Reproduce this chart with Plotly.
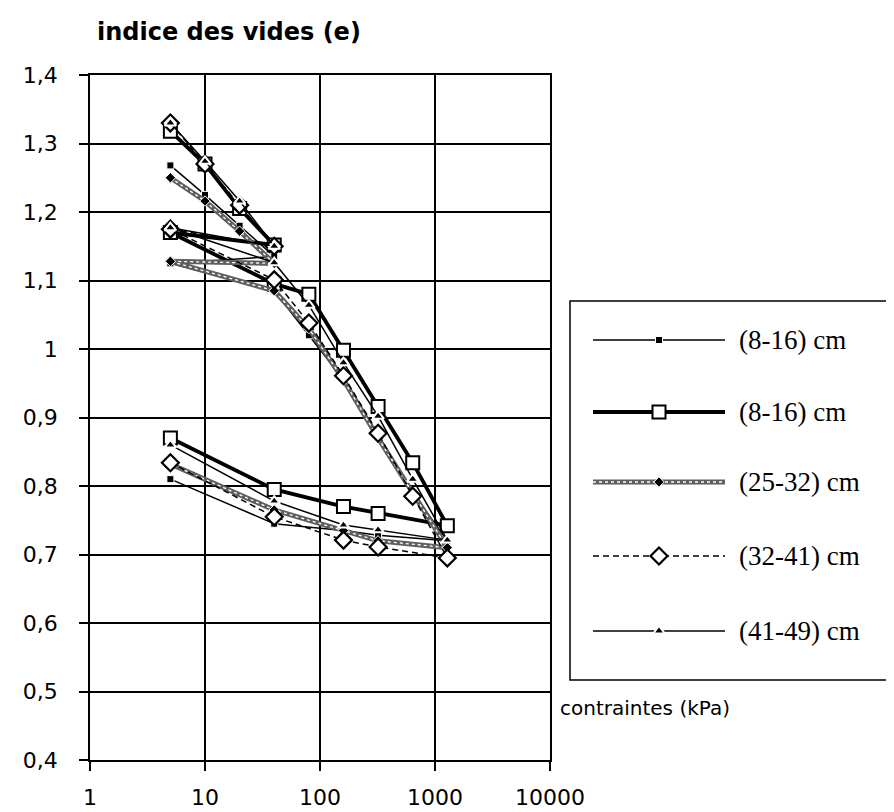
import plotly.graph_objects as go

# ---------------- data ----------------
pressure_kpa = [5, 10, 20, 40, 5, 40, 80, 160, 320, 640, 1280, 320, 160, 40, 5]

e_8_16_a = [1.268, 1.225, 1.180, 1.135, 1.125, 1.085, 1.020, 0.955, 0.875, 0.790, 0.720, 0.728, 0.735, 0.745, 0.810]
e_8_16_b = [1.318, 1.270, 1.205, 1.152, 1.170, 1.095, 1.080, 0.998, 0.916, 0.834, 0.742, 0.760, 0.770, 0.795, 0.870]
e_25_32 = [1.250, 1.216, 1.172, 1.125, 1.128, 1.085, 1.030, 0.955, 0.870, 0.790, 0.710, 0.720, 0.735, 0.765, 0.832]
e_32_41 = [1.330, 1.270, 1.210, 1.150, 1.175, 1.101, 1.038, 0.961, 0.877, 0.785, 0.695, 0.711, 0.721, 0.755, 0.834]
e_41_49 = [1.330, 1.274, 1.216, 1.150, 1.177, 1.126, 1.064, 0.980, 0.902, 0.810, 0.721, 0.736, 0.743, 0.778, 0.860]

series_names = ["(8-16) cm", "(8-16) cm", "(25-32) cm", "(32-41) cm", "(41-49) cm"]
series_values = [e_8_16_a, e_8_16_b, e_25_32, e_32_41, e_41_49]

x_tick_vals = [1, 10, 100, 1000, 10000]
x_tick_text = ["1", "10", "100", "1000", "10000"]
y_tick_vals = [0.4, 0.5, 0.6, 0.7, 0.8, 0.9, 1.0, 1.1, 1.2, 1.3, 1.4]
y_tick_text = ["0,4", "0,5", "0,6", "0,7", "0,8", "0,9", "1", "1,1", "1,2", "1,3", "1,4"]

# ---------------- styles ----------------
W, H = 894, 812
styles = [
    dict(line=dict(color="black", width=1.5),
         marker=dict(symbol="square", size=7, color="black", line=dict(color="white", width=1))),
    dict(line=dict(color="black", width=3.8),
         marker=dict(symbol="square", size=13, color="white", line=dict(color="black", width=2))),
    dict(line=dict(color="#5e5e5e", width=5),
         marker=dict(symbol="diamond", size=8, color="black", line=dict(color="white", width=1))),
    dict(line=dict(color="black", width=1.5, dash="6px,4px"),
         marker=dict(symbol="diamond", size=13, color="white", line=dict(color="black", width=2.2))),
    dict(line=dict(color="black", width=1.5),
         marker=dict(symbol="triangle-up", size=10, color="black", line=dict(color="white", width=2))),
]
texture_line = dict(color="white", width=1.3, dash="dot")

fig = go.Figure()

for i, (name, vals) in enumerate(zip(series_names, series_values)):
    st = styles[i]
    fig.add_trace(go.Scatter(x=pressure_kpa, y=vals, mode="lines", line=st["line"],
                             showlegend=False, hoverinfo="skip"))
    if i == 2:
        fig.add_trace(go.Scatter(x=pressure_kpa, y=vals, mode="lines", line=texture_line,
                                 showlegend=False, hoverinfo="skip"))
    fig.add_trace(go.Scatter(x=pressure_kpa, y=vals, mode="markers", marker=st["marker"],
                             name=name, showlegend=False))

# ---------------- custom legend (pixel-coordinate helper axes) ----------------
leg_left, leg_right, leg_top, leg_bottom = 562, 894, 293, 672
leg_rows = [332, 404, 474, 548, 623]
leg_line_x = [585, 717]
leg_mark_x = 651
leg_text_x = 729

for i, (name, yrow) in enumerate(zip(series_names, leg_rows)):
    st = styles[i]
    fig.add_trace(go.Scatter(x=leg_line_x, y=[yrow, yrow], mode="lines", line=st["line"],
                             xaxis="x2", yaxis="y2", showlegend=False, hoverinfo="skip"))
    if i == 2:
        fig.add_trace(go.Scatter(x=leg_line_x, y=[yrow, yrow], mode="lines", line=texture_line,
                                 xaxis="x2", yaxis="y2", showlegend=False, hoverinfo="skip"))
    fig.add_trace(go.Scatter(x=[leg_mark_x], y=[yrow], mode="markers", marker=st["marker"],
                             xaxis="x2", yaxis="y2", showlegend=False, hoverinfo="skip"))
    fig.add_annotation(x=leg_text_x, y=yrow, xref="x2", yref="y2", text=name, showarrow=False,
                       xanchor="left", yanchor="middle",
                       font=dict(family="Liberation Serif", size=27, color="black"))

fig.add_shape(type="rect", xref="paper", yref="paper",
              x0=leg_left / W, x1=1.01, y0=1 - leg_bottom / H, y1=1 - leg_top / H,
              line=dict(color="black", width=1.5), fillcolor="rgba(0,0,0,0)")

# ---------------- axes ----------------
px_left, px_right, px_top, px_bottom = 82, 542, 67, 752
axis_font = dict(family="DejaVu Sans", size=22, color="black")

fig.update_layout(
    width=W, height=H, autosize=False,
    margin=dict(l=0, r=0, t=0, b=0),
    paper_bgcolor="white", plot_bgcolor="white",
    showlegend=False,
    xaxis=dict(type="log", range=[0, 4], domain=[px_left / W, px_right / W],
               tickvals=x_tick_vals, ticktext=x_tick_text, tickfont=axis_font,
               showgrid=True, gridcolor="black", gridwidth=1.5,
               showline=True, linecolor="black", linewidth=1.5, mirror=True,
               ticks="outside", ticklen=9, tickwidth=1.5, tickcolor="black",
               ticklabelstandoff=8, zeroline=False, automargin=False, fixedrange=True),
    yaxis=dict(range=[0.4, 1.4], domain=[1 - px_bottom / H, 1 - px_top / H],
               tickvals=y_tick_vals, ticktext=y_tick_text, tickfont=axis_font,
               showgrid=True, gridcolor="black", gridwidth=1.5,
               showline=True, linecolor="black", linewidth=1.5, mirror=True,
               ticks="outside", ticklen=9, tickwidth=1.5, tickcolor="black",
               ticklabelstandoff=17, zeroline=False, automargin=False, fixedrange=True),
    xaxis2=dict(domain=[leg_left / W, 1], range=[leg_left, W], visible=False, fixedrange=True),
    yaxis2=dict(domain=[1 - leg_bottom / H, 1 - leg_top / H], range=[leg_bottom, leg_top],
                visible=False, fixedrange=True),
)

fig.add_annotation(x=87 / W, y=1 - 24 / H, xref="paper", yref="paper",
                   text="indice des vides (e)", showarrow=False, xanchor="left", yanchor="middle",
                   font=dict(family="DejaVu Sans", size=24, color="black", weight="bold"))
fig.add_annotation(x=550 / W, y=1 - 700 / H, xref="paper", yref="paper",
                   text="contraintes (kPa)", showarrow=False, xanchor="left", yanchor="middle",
                   font=dict(family="DejaVu Sans", size=20, color="black"))

fig.write_html("out.html")
